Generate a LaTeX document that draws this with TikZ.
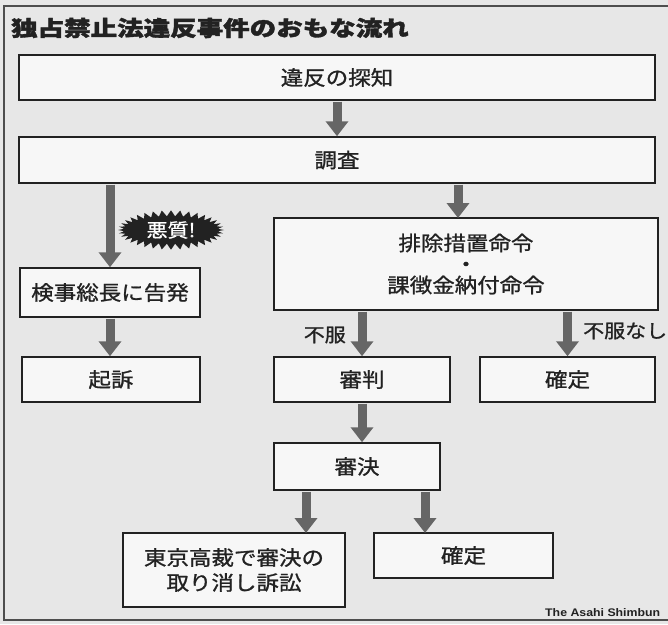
\documentclass[tikz,border=0pt]{standalone}
\usepackage{fontspec}
\setmainfont{Noto Sans CJK JP}
\newfontfamily\jpmed{Noto Sans CJK JP}[FakeBold=1.0]
\newfontfamily\jptitle{Noto Sans CJK JP}[FakeBold=1.6]
\newfontfamily\latfont{Liberation Sans}
\usetikzlibrary{arrows.meta,shapes.symbols}
\definecolor{bggray}{HTML}{E7E7E7}
\definecolor{boxfill}{HTML}{F7F7F7}
\definecolor{arrgray}{HTML}{666666}
\definecolor{ink}{HTML}{222222}
\newcommand{\bx}[1]{\scalebox{1}[0.9]{#1}}
\tikzset{
  box/.style={draw=ink, line width=1.5pt, fill=boxfill, text=ink, inner sep=0pt,
    font=\jpmed\fontsize{22.5}{27}\selectfont, align=center},
  flow/.style={draw=arrgray, line width=9pt, -{Triangle[width=22pt,length=15pt]}, shorten <=0.75pt},
  lbl/.style={text=ink, inner sep=0pt, font=\jpmed\fontsize{21}{24}\selectfont},
}
\begin{document}
\begin{tikzpicture}[x=1pt,y=-1pt]
\useasboundingbox (0,0) rectangle (668,624);
\fill[bggray] (0,0) rectangle (668,624);
\draw[ink!80, line width=1.2pt] (4,6) rectangle (672,620);
\node[anchor=west, inner sep=0pt, text=ink, font=\jptitle\bfseries\fontsize{26.5}{30}\selectfont] (title) at (11,28) {\scalebox{1}[0.8]{独占禁止法違反事件のおもな流れ}};

\node[box, minimum width=636pt, minimum height=45pt] (tanchi) at (337,77.5) {\bx{違反の探知}};
\node[box, minimum width=636pt, minimum height=46pt] (chosa) at (337,160) {\bx{調査}};
\node[box, minimum width=180pt, minimum height=49pt] (kokuhatsu) at (110,292.5) {\bx{検事総長に告発}};
\node[box, minimum width=384pt, minimum height=92pt] (meirei) at (466,264) {\bx{排除措置命令}\\[-6pt]\bx{・}\\[-6pt]\bx{課徴金納付命令}};
\node[box, minimum width=178pt, minimum height=45pt] (kiso) at (111,379.5) {\bx{起訴}};
\node[box, minimum width=176pt, minimum height=45pt] (shinpan) at (362,379.5) {\bx{審判}};
\node[box, minimum width=175pt, minimum height=45pt] (kakutei1) at (567.5,379.5) {\bx{確定}};
\node[box, minimum width=166pt, minimum height=47pt] (shinketsu) at (357,466.5) {\bx{審決}};
\node[box, minimum width=222pt, minimum height=74pt] (sosho) at (234,570) {\bx{東京高裁で審決の}\\[-2pt]\bx{取り消し訴訟}};
\node[box, minimum width=179pt, minimum height=45pt] (kakutei2) at (463.5,555.5) {\bx{確定}};

\node[starburst, starburst points=36, starburst point height=6pt, random starburst=0,
  fill=ink, draw=none, text=white, minimum width=106pt, minimum height=38pt, inner sep=1pt,
  font=\jpmed\fontsize{21}{24}\selectfont] (akushitsu) at (171,230) {\bx{悪質!}};

\coordinate (m1) at (458,218);
\coordinate (s1) at (306,533);
\coordinate (s2) at (425,533);

\draw[flow] (tanchi.south) -- (chosa.north);
\draw[flow] (chosa.south -| kokuhatsu.north) -- (kokuhatsu.north);
\draw[flow] (chosa.south -| m1) -- (m1);
\draw[flow] (kokuhatsu.south) -- (kokuhatsu.south |- kiso.north);
\draw[flow] (meirei.south -| shinpan.north) -- (shinpan.north);
\draw[flow] (meirei.south -| kakutei1.north) -- (kakutei1.north);
\draw[flow] (shinpan.south) -- (shinpan.south |- shinketsu.north);
\draw[flow] (shinketsu.south -| s1) -- (s1);
\draw[flow] (shinketsu.south -| s2) -- (s2);

\node[lbl, anchor=east] (fufuku) at (346,335) {\bx{不服}};
\node[lbl, anchor=west] (fufukunashi) at (583,331) {\bx{不服なし}};

\node[anchor=west, inner sep=0pt, text=ink, font=\latfont\bfseries\fontsize{11}{12}\selectfont] (credit) at (545,613) {\scalebox{1.12}[1]{The Asahi Shimbun}};
\end{tikzpicture}
\end{document}
